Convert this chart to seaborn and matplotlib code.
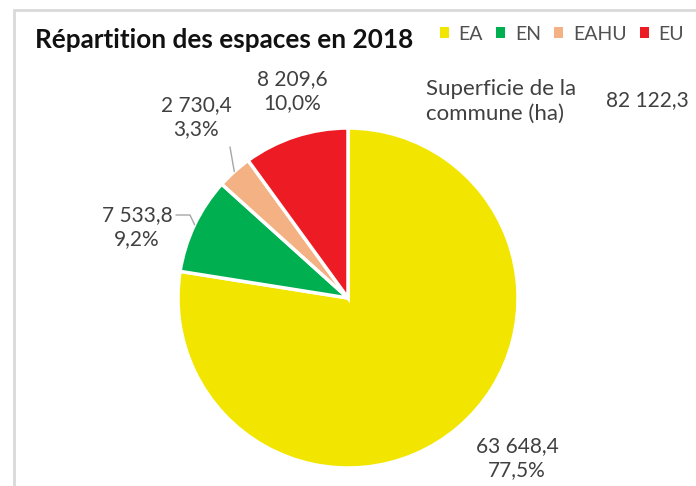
import numpy as np
import seaborn as sns
import matplotlib.pyplot as plt
from matplotlib.patches import Rectangle

categories = ['EA', 'EN', 'EAHU', 'EU']
surfaces = [63648.4, 7533.8, 2730.4, 8209.6]
value_labels = ['63 648,4', '7 533,8', '2 730,4', '8 209,6']
pct_labels = ['77,5%', '9,2%', '3,3%', '10,0%']
total_label = '82 122,3'
colors = sns.color_palette(['#F2E600', '#00B050', '#F4B183', '#ED1C24'])

sns.set_theme(style='white')
plt.rcParams['font.family'] = ['Lato', 'DejaVu Sans']

W, H = 696, 486
fig = plt.figure(figsize=(W / 100, H / 100), dpi=100)
ax = fig.add_axes([0, 0, 1, 1])

cx, cy, r = 348, H - 298, 170
wedges, _ = ax.pie(surfaces, colors=colors, startangle=90, counterclock=False,
                   center=(cx, cy), radius=r, frame=True,
                   wedgeprops=dict(edgecolor='white', linewidth=2.5))
ax.set_xlim(0, W)
ax.set_ylim(0, H)
ax.set_aspect('equal')
ax.axis('off')

txt = '#404040'
# label positions (image pixels, center of the two-line block)
label_pos = [(517, 458), (137, 227), (196, 117), (292, 91)]
for i, (lx, ly) in enumerate(label_pos):
    ax.text(lx, H - ly, value_labels[i] + '\n' + pct_labels[i], ha='center', va='center',
            fontsize=15, color=txt, linespacing=1.25)

# leader lines for the small slices
def edge_point(w):
    a = np.deg2rad((w.theta1 + w.theta2) / 2)
    return cx + r * np.cos(a), cy + r * np.sin(a)

ex, ey = edge_point(wedges[1])
ax.plot([ex, 190, 176], [ey, H - 215, H - 215], color='#a6a6a6', lw=1)
ex, ey = edge_point(wedges[2])
ax.plot([ex, 230], [ey, H - 147], color='#a6a6a6', lw=1)

ax.text(426, H - 101, 'Superficie de la\ncommune (ha)', ha='left', va='center',
        fontsize=16, color=txt, linespacing=1.3)
ax.text(647, H - 100, total_label, ha='center', va='center', fontsize=15, color=txt)

ax.text(35, H - 40, 'Répartition des espaces en 2018', ha='left', va='center',
        fontsize=18.8, fontweight='bold', color='#111111')

leg = ax.legend(wedges, categories, loc='center right', bbox_to_anchor=(694 / W, 1 - 34 / H),
                bbox_transform=fig.transFigure, ncol=4, frameon=False, fontsize=14,
                handlelength=0.45, handleheight=0.5, handletextpad=0.5, columnspacing=0.7,
                borderpad=0, labelcolor='#505050')
for h in leg.legend_handles:
    h.set_edgecolor('none')

fig.patches.append(Rectangle((14 / W, -0.1), 1.2, (H - 10) / H + 0.1, transform=fig.transFigure,
                             fill=False, edgecolor='#d9d9d9', lw=2))

fig.savefig('out.png', dpi=100)
